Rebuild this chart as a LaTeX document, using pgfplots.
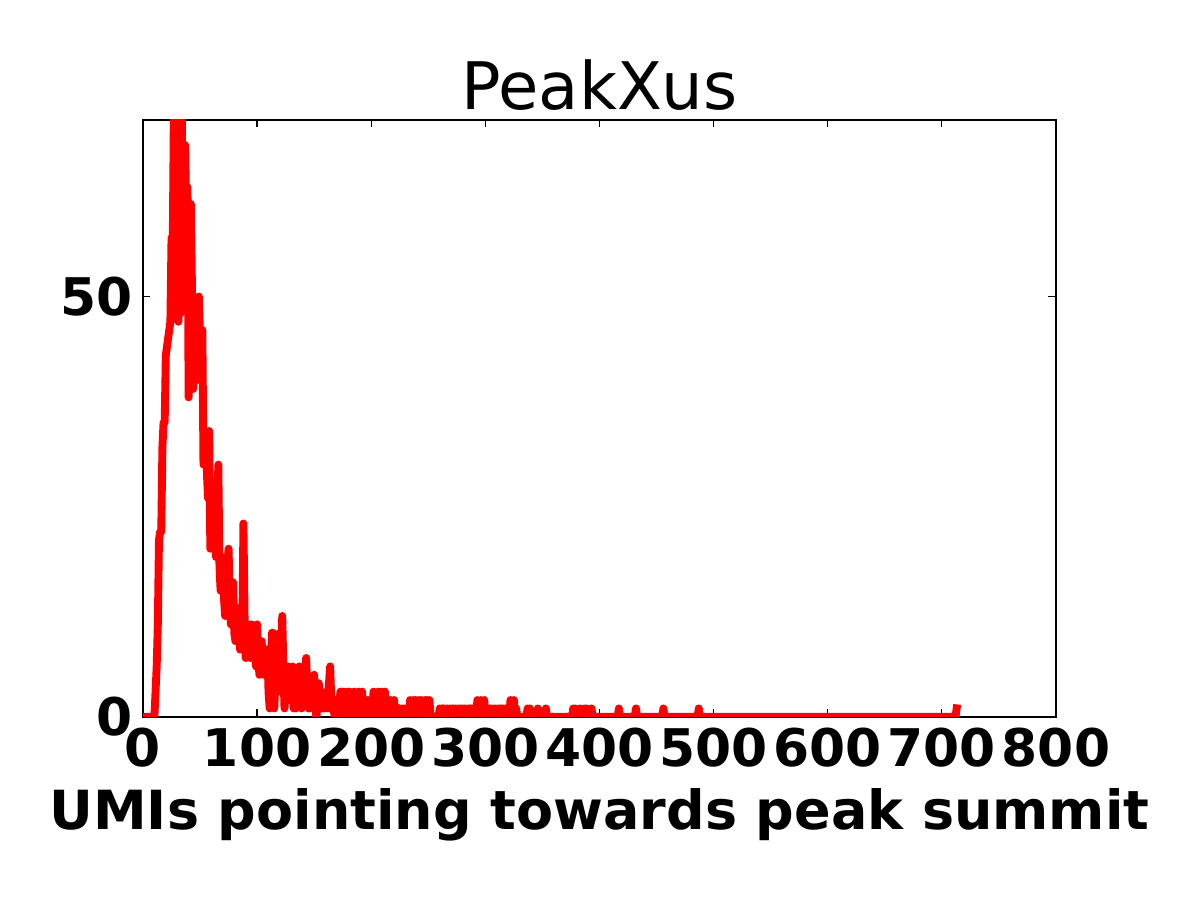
\documentclass[border=0pt]{standalone}
\usepackage{pgfplots}
\pgfplotsset{compat=1.18}
\usepackage{fontspec}
\setmainfont{DejaVu Sans}
\begin{document}
\begin{tikzpicture}
\useasboundingbox (-68.9pt,-88.2pt) rectangle (509.3pt,345.4pt);
\begin{axis}[
  at={(0,0)}, anchor=south west,
  scale only axis, width=439.9pt, height=287.6pt,
  xmin=0, xmax=800, ymin=0, ymax=71,
  xtick={0,100,...,800}, ytick={0,50},
  tick align=inside, major tick length=3.6pt,
  tick style={black, line width=0.6pt},
  axis line style={black, line width=1pt},
  /pgf/number format/assume math mode=true,
  ticklabel style={font=\fontsize{25}{30}\selectfont\bfseries},
  xticklabel style={anchor=base, yshift=-24.1pt, inner sep=0pt},
  yticklabel style={anchor=east, inner sep=0pt, xshift=-4.8pt},
  title={PeakXus},
  title style={font=\fontsize{31.6}{38}\selectfont, at={(0.5,1)}, anchor=base, yshift=-1pt, inner sep=0pt},
  xlabel={UMIs pointing towards peak summit},
  xlabel style={font=\fontsize{26}{31}\selectfont\bfseries, at={(0.5,0)}, anchor=base, yshift=-54.4pt, inner sep=0pt},
  clip=true,
]
\addplot[red, line width=3.8pt, line join=round, line cap=rect, no markers] table {
x y
0 0
10 0
11 3
12 6
13 11
14 21
15 22
16 22
17 32
18 35
19 35
20 43
21 44
22 45
23 46
24 47
25 57
26 55
27 71
28 60
29 71
30 65
31 47
32 71
33 48
34 71
35 60
36 55
37 68
38 58
39 63
40 38
41 45
42 61
43 50
44 39
45 42
46 40
47 44
48 42
49 50
50 45
51 40
52 46
53 30
54 32
55 34
56 29
57 26
58 34
59 20
60 24
61 22
62 28
63 21
64 19
65 23
66 30
67 18
68 15
69 17
70 19
71 14
72 12
73 16
74 18
75 20
76 14
77 11
78 13
79 16
80 10
81 9
82 13
83 10
84 11
85 8
86 12
87 9
88 23
89 12
90 7
91 9
92 11
93 8
94 7
95 11
96 9
97 10
98 8
99 6
100 11
101 7
102 5
103 8
104 9
105 6
106 5
107 5
108 8
109 8
110 3
111 1
112 5
113 10
114 10
115 1
116 4
117 6
118 3
119 5
120 10
121 3
122 12
123 6
124 1
125 3
126 4
127 6
128 2
129 2
130 4
131 6
132 1
133 3
134 1
135 4
136 2
137 6
138 4
139 1
140 3
141 2
142 5
143 7
144 3
145 1
146 1
147 2
148 4
149 3
150 5
151 1
152 0
153 2
154 4
155 3
156 1
157 1
158 2
159 1
160 2
161 3
162 1
163 4
164 6
165 2
166 1
167 1
168 0
169 2
170 1
171 0
172 1
173 3
174 3
175 1
176 3
177 0
178 2
179 3
180 0
181 3
182 1
183 2
184 0
185 3
186 1
187 0
188 2
189 3
190 0
191 1
192 3
193 0
194 2
195 1
196 0
197 2
198 0
199 1
200 2
201 0
202 3
203 1
204 0
205 2
206 3
207 0
208 1
209 3
210 0
211 2
212 3
213 0
214 1
215 2
216 0
217 2
218 1
219 0
220 2
221 0
222 1
223 0
224 1
225 1
226 0
227 1
228 0
229 1
230 0
231 1
232 0
233 0
234 2
235 1
236 0
237 2
238 0
239 2
240 1
241 0
242 2
243 0
244 2
245 0
246 1
247 2
248 0
249 2
250 0
251 2
252 0
259 0
260 1
261 0
262 1
263 1
264 0
265 1
266 0
267 1
268 0
269 1
270 0
271 1
272 1
273 0
274 1
275 0
276 1
277 0
278 1
279 0
280 1
281 0
282 1
283 0
284 1
285 0
286 1
287 1
288 0
289 1
290 0
291 1
292 0
293 2
294 1
295 0
296 2
297 0
298 1
299 2
300 0
301 1
302 0
303 1
304 0
305 1
306 0
307 1
308 0
309 1
310 0
311 1
312 0
313 1
314 1
315 0
316 1
317 0
318 1
319 0
320 1
321 0
322 2
323 0
324 1
325 2
326 0
327 1
328 0
336 0
337 1
338 0
339 1
340 0
345 0
346 1
347 0
352 0
353 1
354 0
376 0
377 1
378 0
379 1
380 0
382 0
383 1
384 0
386 0
387 1
388 0
389 1
390 0
392 0
393 1
394 0
416 0
417 1
418 0
431 0
432 1
433 0
455 0
456 1
457 0
486 0
487 1
488 0
712 0
713 1
};
\end{axis}
\end{tikzpicture}
\end{document}
